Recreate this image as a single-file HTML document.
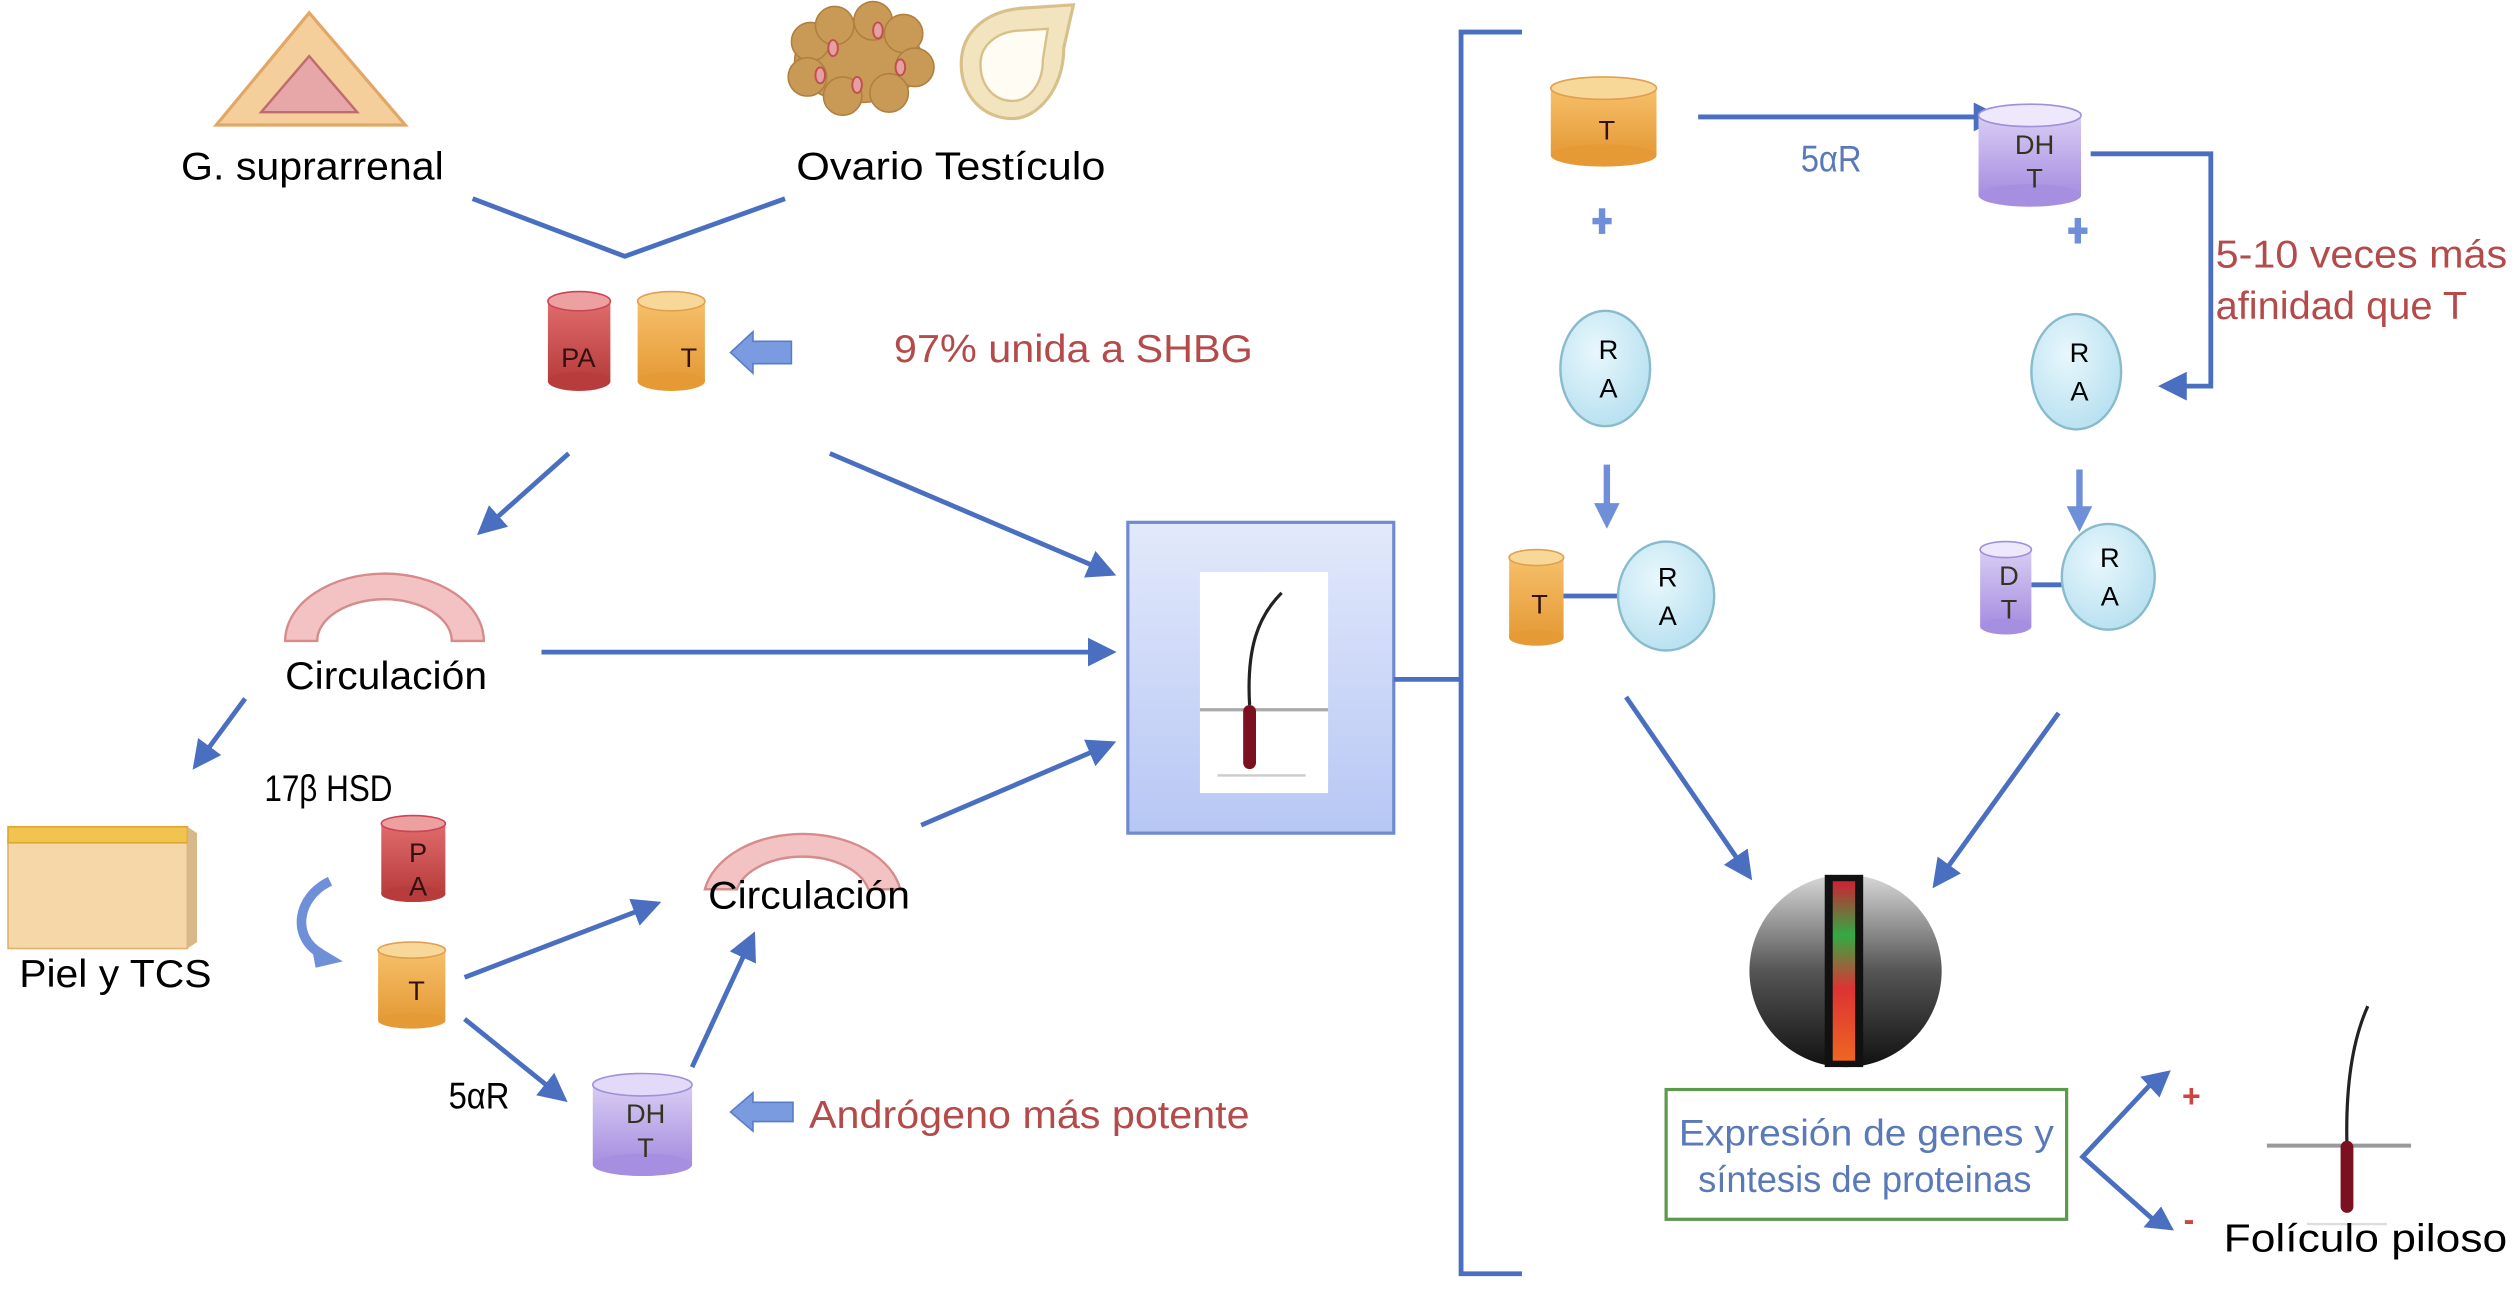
<!DOCTYPE html>
<html><head><meta charset="utf-8"><style>
html,body{margin:0;padding:0;background:#fff}
svg{display:block}
text{font-family:"Liberation Sans",sans-serif}
</style></head><body>
<svg width="2512" height="1293" viewBox="0 0 1568 807" preserveAspectRatio="none" xmlns="http://www.w3.org/2000/svg">
<defs>
<marker id="ah" markerWidth="6" markerHeight="6" refX="5" refY="3" orient="auto" markerUnits="strokeWidth">
<path d="M0,0 L6,3 L0,6 z" fill="#4a6fc0"/></marker>
<marker id="ahs" markerWidth="4" markerHeight="4" refX="3" refY="2" orient="auto" markerUnits="strokeWidth">
<path d="M0,0 L4,2 L0,4 z" fill="#6f8fd8"/></marker>
<linearGradient id="red" x1="0" x2="0" y1="0" y2="1"><stop offset="0" stop-color="#e06c6c"/><stop offset="1" stop-color="#b83c3c"/></linearGradient>
<linearGradient id="org" x1="0" x2="0" y1="0" y2="1"><stop offset="0" stop-color="#f6c06a"/><stop offset="1" stop-color="#e59a36"/></linearGradient>
<linearGradient id="pur" x1="0" x2="0" y1="0" y2="1"><stop offset="0" stop-color="#d9cdf4"/><stop offset="1" stop-color="#a68ee0"/></linearGradient>
<radialGradient id="ra" cx="0.4" cy="0.35" r="0.7"><stop offset="0" stop-color="#e8f7fc"/><stop offset="1" stop-color="#b6e0f0"/></radialGradient>
<linearGradient id="nuc" x1="0" x2="0" y1="0" y2="1"><stop offset="0" stop-color="#d8d8d8"/><stop offset="0.5" stop-color="#555"/><stop offset="1" stop-color="#111"/></linearGradient>
<linearGradient id="boxg" x1="0" x2="0" y1="0" y2="1"><stop offset="0" stop-color="#e2e9fb"/><stop offset="1" stop-color="#b7c7f4"/></linearGradient>
<linearGradient id="dna" x1="0" x2="0" y1="0" y2="1"><stop offset="0" stop-color="#c23"/><stop offset=".3" stop-color="#3a4"/><stop offset=".6" stop-color="#d33"/><stop offset="1" stop-color="#e62"/></linearGradient>
</defs>

<!-- Adrenal -->
<polygon points="193,8 135,78 253,78" fill="#f5cf9b" stroke="#e2a766" stroke-width="2"/>
<polygon points="193,35 163,70 223,70" fill="#e7a7a8" stroke="#c06b6e" stroke-width="1.5"/>
<text x="113" y="112" font-size="24" textLength="164" lengthAdjust="spacingAndGlyphs">G. suprarrenal</text>
<!-- Ovary -->
<g fill="#c99a55" stroke="#b08040" stroke-width="1">
<ellipse cx="536" cy="38" rx="40" ry="26"/>
<circle cx="506" cy="26" r="12"/><circle cx="521" cy="16" r="12"/><circle cx="545" cy="13" r="12"/><circle cx="564" cy="21" r="12"/><circle cx="571" cy="42" r="12"/><circle cx="555" cy="58" r="12"/><circle cx="526" cy="60" r="12"/><circle cx="504" cy="48" r="12"/>
</g>
<g fill="#e7a0a0" stroke="#c05050" stroke-width="1.2">
<ellipse cx="520" cy="30" rx="3" ry="5"/><ellipse cx="548" cy="19" rx="3" ry="5"/><ellipse cx="512" cy="47" rx="3" ry="5"/><ellipse cx="535" cy="53" rx="3" ry="5"/><ellipse cx="562" cy="42" rx="3" ry="5"/>
</g>
<!-- Testicle -->
<path d="M600,40 C600,18 618,6 640,5 L670,3 L664,30 C664,55 648,74 632,74 C614,74 600,60 600,40 z" fill="#f3e4c0" stroke="#d8c08a" stroke-width="2"/>
<path d="M612,40 C612,27 624,19 638,19 L654,18 L651,37 C651,53 642,63 632,63 C620,63 612,53 612,40 z" fill="#fffdf3" stroke="#d8c08a" stroke-width="1.5"/>
<text x="497" y="112" font-size="24" textLength="193" lengthAdjust="spacingAndGlyphs">Ovario  Testículo</text>

<!-- V -->
<polyline points="295,124 390,160 490,124" fill="none" stroke="#4a6fc0" stroke-width="3"/>

<!-- PA T top -->
<rect x="342" y="188" width="39" height="50" fill="url(#red)"/><ellipse cx="361.5" cy="238" rx="19.5" ry="6" fill="#b83c3c"/><ellipse cx="361.5" cy="188" rx="19.5" ry="6" fill="#eda0a0" stroke="#c45" stroke-width="1"/>
<text x="361" y="229" font-size="17" text-anchor="middle" fill="#311">PA</text>
<rect x="398" y="188" width="42" height="50" fill="url(#org)"/><ellipse cx="419" cy="238" rx="21" ry="6" fill="#e59a36"/><ellipse cx="419" cy="188" rx="21" ry="6" fill="#f8d898" stroke="#e0a050" stroke-width="1"/>
<text x="430" y="229" font-size="17" text-anchor="middle" fill="#311">T</text>
<polygon points="456,220 470,207 470,213 494,213 494,227 470,227 470,233" fill="#7b9be0" stroke="#5a7cc8" stroke-width="1"/>
<text x="558" y="226" font-size="24" fill="#b54a4a" textLength="224" lengthAdjust="spacingAndGlyphs">97% unida a SHBG</text>

<line x1="355" y1="283" x2="300" y2="332" stroke="#4a6fc0" stroke-width="3" marker-end="url(#ah)"/>
<line x1="518" y1="283" x2="694" y2="358" stroke="#4a6fc0" stroke-width="3" marker-end="url(#ah)"/>

<!-- central box -->
<rect x="704" y="326" width="166" height="194" fill="url(#boxg)" stroke="#6f8bd0" stroke-width="2"/>
<rect x="749" y="357" width="80" height="138" fill="#fff"/>
<line x1="749" y1="443" x2="829" y2="443" stroke="#aaa" stroke-width="2"/>
<path d="M800,370 C785,385 778,405 780,440" fill="none" stroke="#222" stroke-width="2"/>
<rect x="776" y="440" width="8" height="40" rx="4" fill="#7a1020"/>
<line x1="760" y1="484" x2="815" y2="484" stroke="#ccc" stroke-width="1.5"/>
<line x1="870" y1="424" x2="912" y2="424" stroke="#4a6fc0" stroke-width="3"/>

<!-- Circulacion 1 -->
<path d="M178,400 A62,42 0 0 1 302,400 L282,400 A42,26 0 0 0 198,400 z" fill="#f3c3c3" stroke="#d68c8c" stroke-width="1.5"/>
<text x="178" y="430" font-size="24" textLength="126" lengthAdjust="spacingAndGlyphs">Circulación</text>
<line x1="338" y1="407" x2="694" y2="407" stroke="#4a6fc0" stroke-width="3" marker-end="url(#ah)"/>
<line x1="153" y1="436" x2="122" y2="478" stroke="#4a6fc0" stroke-width="3" marker-end="url(#ah)"/>
<text x="165" y="500" font-size="23" textLength="80" lengthAdjust="spacingAndGlyphs">17β HSD</text>

<!-- Piel -->
<rect x="5" y="524" width="112" height="68" fill="#f6d7a7" stroke="#e0b070" stroke-width="1"/>
<rect x="5" y="516" width="112" height="10" fill="#f0c44e" stroke="#d8a830" stroke-width="1"/>
<polygon points="117,516 123,520 123,588 117,592" fill="#d8b888"/>
<text x="12" y="616" font-size="24" textLength="120" lengthAdjust="spacingAndGlyphs">Piel y TCS</text>

<!-- small PA, T -->
<rect x="238" y="514" width="40" height="44" fill="url(#red)"/><ellipse cx="258" cy="558" rx="20" ry="5" fill="#b83c3c"/><ellipse cx="258" cy="514" rx="20" ry="5" fill="#eda0a0" stroke="#c45" stroke-width="1"/>
<text x="261" y="538" font-size="17" text-anchor="middle" fill="#311">P</text><text x="261" y="559" font-size="17" text-anchor="middle" fill="#311">A</text>
<rect x="236" y="593" width="42" height="44" fill="url(#org)"/><ellipse cx="257" cy="637" rx="21" ry="5" fill="#e59a36"/><ellipse cx="257" cy="593" rx="21" ry="5" fill="#f8d898" stroke="#e0a050" stroke-width="1"/>
<text x="260" y="624" font-size="17" text-anchor="middle" fill="#311">T</text>
<path d="M206,550 C185,560 182,585 200,595" fill="none" stroke="#6f8fd8" stroke-width="6"/>
<polygon points="194,588 214,600 197,604" fill="#6f8fd8"/>

<line x1="290" y1="610" x2="410" y2="564" stroke="#4a6fc0" stroke-width="3" marker-end="url(#ah)"/>
<!-- Circulacion 2 -->
<path d="M440,555 A62,42 0 0 1 562,555 L542,555 A42,26 0 0 0 460,555 z" fill="#f3c3c3" stroke="#d68c8c" stroke-width="1.5"/>
<text x="442" y="567" font-size="24" textLength="126" lengthAdjust="spacingAndGlyphs">Circulación</text>
<line x1="575" y1="515" x2="694" y2="464" stroke="#4a6fc0" stroke-width="3" marker-end="url(#ah)"/>
<line x1="290" y1="636" x2="352" y2="686" stroke="#4a6fc0" stroke-width="3" marker-end="url(#ah)"/>
<text x="280" y="692" font-size="23" textLength="38" lengthAdjust="spacingAndGlyphs">5αR</text>
<line x1="432" y1="666" x2="470" y2="584" stroke="#4a6fc0" stroke-width="3" marker-end="url(#ah)"/>
<!-- DHT -->
<rect x="370" y="677" width="62" height="50" fill="url(#pur)"/><ellipse cx="401" cy="727" rx="31" ry="7" fill="#a68ee0"/><ellipse cx="401" cy="677" rx="31" ry="7" fill="#e3dafa" stroke="#a090d8" stroke-width="1"/>
<text x="403" y="701" font-size="17" text-anchor="middle" fill="#332">DH</text><text x="403" y="722" font-size="17" text-anchor="middle" fill="#332">T</text>
<polygon points="456,694 470,682 470,688 495,688 495,700 470,700 470,706" fill="#7b9be0" stroke="#5a7cc8" stroke-width="1"/>
<text x="505" y="704" font-size="24" fill="#b54a4a" textLength="275" lengthAdjust="spacingAndGlyphs">Andrógeno más potente</text>

<!-- bracket -->
<polyline points="950,20 912,20 912,795 950,795" fill="none" stroke="#4a6fc0" stroke-width="3"/>

<!-- right top T -->
<rect x="968" y="55" width="66" height="42" fill="url(#org)"/><ellipse cx="1001" cy="97" rx="33" ry="7" fill="#e59a36"/><ellipse cx="1001" cy="55" rx="33" ry="7" fill="#f8d898" stroke="#e0a050" stroke-width="1"/>
<text x="1003" y="87" font-size="17" text-anchor="middle" fill="#311">T</text>
<line x1="1060" y1="73" x2="1247" y2="73" stroke="#4a6fc0" stroke-width="3" marker-end="url(#ah)"/>
<text x="1124" y="107" font-size="23" fill="#5a79b8" textLength="38" lengthAdjust="spacingAndGlyphs">5αR</text>
<!-- DHT right -->
<rect x="1235" y="72" width="64" height="50" fill="url(#pur)"/><ellipse cx="1267" cy="122" rx="32" ry="7" fill="#a68ee0"/><ellipse cx="1267" cy="72" rx="32" ry="7" fill="#eee8fc" stroke="#a090d8" stroke-width="1"/>
<text x="1270" y="96" font-size="17" text-anchor="middle" fill="#332">DH</text><text x="1270" y="117" font-size="17" text-anchor="middle" fill="#332">T</text>
<polyline points="1305,96 1380,96 1380,241 1350,241" fill="none" stroke="#4a6fc0" stroke-width="3" marker-end="url(#ah)"/>
<text x="1383" y="167" font-size="24" fill="#b54a4a" textLength="182" lengthAdjust="spacingAndGlyphs">5-10 veces más</text>
<text x="1383" y="199" font-size="24" fill="#b54a4a" textLength="157" lengthAdjust="spacingAndGlyphs">afinidad que T</text>

<!-- small plus arrows -->
<g fill="#6f8fd8"><rect x="998" y="130" width="4" height="16"/><rect x="994" y="136" width="12" height="4"/><rect x="1295" y="136" width="4" height="16"/><rect x="1291" y="142" width="12" height="4"/></g>

<ellipse cx="1002" cy="230" rx="28" ry="36" fill="url(#ra)" stroke="#8bc" stroke-width="1.5"/>
<text x="1004" y="224" font-size="17" text-anchor="middle">R</text><text x="1004" y="248" font-size="17" text-anchor="middle">A</text>
<ellipse cx="1296" cy="232" rx="28" ry="36" fill="url(#ra)" stroke="#8bc" stroke-width="1.5"/>
<text x="1298" y="226" font-size="17" text-anchor="middle">R</text><text x="1298" y="250" font-size="17" text-anchor="middle">A</text>

<line x1="1003" y1="290" x2="1003" y2="318" stroke="#6f8fd8" stroke-width="4"/>
<polygon points="995,314 1011,314 1003,330" fill="#6f8fd8"/>
<line x1="1298" y1="293" x2="1298" y2="320" stroke="#6f8fd8" stroke-width="4"/>
<polygon points="1290,316 1306,316 1298,332" fill="#6f8fd8"/>

<!-- T-RA -->
<line x1="975" y1="372" x2="1012" y2="372" stroke="#4a6fc0" stroke-width="3"/>
<rect x="942" y="348" width="34" height="50" fill="url(#org)"/><ellipse cx="959" cy="398" rx="17" ry="5" fill="#e59a36"/><ellipse cx="959" cy="348" rx="17" ry="5" fill="#f8d898" stroke="#e0a050" stroke-width="1"/>
<text x="961" y="383" font-size="17" text-anchor="middle" fill="#311">T</text>
<ellipse cx="1040" cy="372" rx="30" ry="34" fill="url(#ra)" stroke="#8bc" stroke-width="1.5"/>
<text x="1041" y="366" font-size="17" text-anchor="middle">R</text><text x="1041" y="390" font-size="17" text-anchor="middle">A</text>
<!-- DT-RA -->
<line x1="1268" y1="365" x2="1290" y2="365" stroke="#4a6fc0" stroke-width="3"/>
<rect x="1236" y="343" width="32" height="48" fill="url(#pur)"/><ellipse cx="1252" cy="391" rx="16" ry="5" fill="#a68ee0"/><ellipse cx="1252" cy="343" rx="16" ry="5" fill="#eee8fc" stroke="#a090d8" stroke-width="1"/>
<text x="1254" y="365" font-size="17" text-anchor="middle" fill="#332">D</text><text x="1254" y="386" font-size="17" text-anchor="middle" fill="#332">T</text>
<ellipse cx="1316" cy="360" rx="29" ry="33" fill="url(#ra)" stroke="#8bc" stroke-width="1.5"/>
<text x="1317" y="354" font-size="17" text-anchor="middle">R</text><text x="1317" y="378" font-size="17" text-anchor="middle">A</text>

<line x1="1015" y1="435" x2="1092" y2="547" stroke="#4a6fc0" stroke-width="3" marker-end="url(#ah)"/>
<line x1="1285" y1="445" x2="1208" y2="552" stroke="#4a6fc0" stroke-width="3" marker-end="url(#ah)"/>

<!-- nucleus -->
<ellipse cx="1152" cy="606" rx="60" ry="60" fill="url(#nuc)"/>
<rect x="1139" y="546" width="24" height="120" fill="#111"/>
<rect x="1144" y="550" width="14" height="112" fill="url(#dna)"/>

<!-- green box -->
<rect x="1040" y="680" width="250" height="81" fill="#fff" stroke="#5a9a4a" stroke-width="2"/>
<text x="1048" y="715" font-size="23" fill="#5a79b8" textLength="234" lengthAdjust="spacingAndGlyphs">Expresión de genes y</text>
<text x="1060" y="744" font-size="23" fill="#5a79b8" textLength="208" lengthAdjust="spacingAndGlyphs">síntesis de proteinas</text>
<polyline points="1345,674 1300,722 1345,762" fill="none" stroke="#4a6fc0" stroke-width="3"/>
<polygon points="1355,668 1336,672 1348,685" fill="#4a6fc0"/>
<polygon points="1357,768 1338,766 1349,753" fill="#4a6fc0"/>
<text x="1362" y="691" font-size="20" fill="#c44" font-weight="bold">+</text>
<text x="1363" y="768" font-size="20" fill="#c44" font-weight="bold">-</text>

<!-- follicle -->
<line x1="1415" y1="715" x2="1505" y2="715" stroke="#999" stroke-width="2.5"/>
<path d="M1478,628 C1468,650 1464,680 1465,716" fill="none" stroke="#222" stroke-width="2"/>
<rect x="1461" y="712" width="8" height="45" rx="4" fill="#7a1020"/>
<line x1="1440" y1="764" x2="1490" y2="764" stroke="#ddd" stroke-width="1.5"/>
<text x="1388" y="781" font-size="24" textLength="177" lengthAdjust="spacingAndGlyphs">Folículo piloso</text>
</svg>
</body></html>
